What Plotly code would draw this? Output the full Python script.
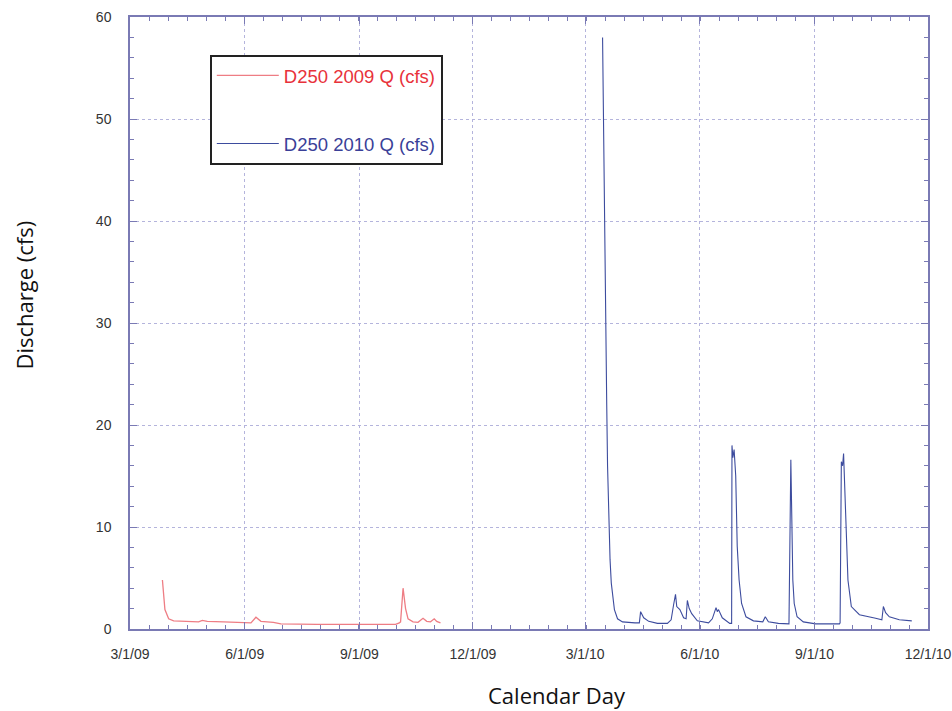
import plotly.graph_objects as go

# ---------------- data ----------------
dates_2009 = ["2009-03-27", "2009-03-29", "2009-04-01", "2009-04-05", "2009-04-15",
              "2009-04-25", "2009-04-28", "2009-05-02", "2009-05-15", "2009-05-30",
              "2009-06-06", "2009-06-10", "2009-06-14", "2009-06-24", "2009-06-30",
              "2009-07-29", "2009-09-30", "2009-10-03", "2009-10-04", "2009-10-06",
              "2009-10-08", "2009-10-10", "2009-10-14", "2009-10-18", "2009-10-22",
              "2009-10-25", "2009-10-28", "2009-10-31", "2009-11-02", "2009-11-05"]
q_2009 = [4.8, 1.9, 1.0, 0.8, 0.75,
          0.7, 0.85, 0.75, 0.7, 0.65,
          0.6, 1.15, 0.75, 0.65, 0.5,
          0.45, 0.45, 0.6, 0.7, 4.0,
          2.0, 1.0, 0.7, 0.65, 1.05,
          0.75, 0.7, 1.0, 0.75, 0.6]

dates_2010 = ["2010-03-15 00:00", "2010-03-15 12:00", "2010-03-16 00:00", "2010-03-16 12:00",
              "2010-03-17 12:00", "2010-03-18 08:00", "2010-03-19 00:00", "2010-03-20 00:00",
              "2010-03-21 00:00", "2010-03-22 00:00", "2010-03-23 00:00", "2010-03-24 12:00",
              "2010-03-27 00:00", "2010-03-31 00:00", "2010-04-10 00:00", "2010-04-13 12:00",
              "2010-04-14 12:00", "2010-04-17 00:00", "2010-04-21 00:00", "2010-04-28 00:00",
              "2010-05-06 00:00", "2010-05-09 00:00", "2010-05-11 00:00", "2010-05-12 12:00",
              "2010-05-13 12:00", "2010-05-16 00:00", "2010-05-19 00:00", "2010-05-21 00:00",
              "2010-05-22 00:00", "2010-05-23 12:00", "2010-05-25 12:00", "2010-05-30 00:00",
              "2010-06-08 00:00", "2010-06-11 00:00", "2010-06-14 00:00", "2010-06-15 00:00",
              "2010-06-16 00:00", "2010-06-19 00:00", "2010-06-25 00:00", "2010-06-26 12:00",
              "2010-06-26 19:00", "2010-06-27 12:00", "2010-06-28 12:00", "2010-06-29 00:00",
              "2010-06-29 19:00", "2010-07-01 00:00", "2010-07-02 12:00", "2010-07-04 12:00",
              "2010-07-08 00:00", "2010-07-14 00:00", "2010-07-21 12:00", "2010-07-23 12:00",
              "2010-07-26 00:00", "2010-08-03 00:00", "2010-08-11 12:00", "2010-08-13 00:00",
              "2010-08-13 19:00", "2010-08-14 14:00", "2010-08-15 17:00", "2010-08-18 00:00",
              "2010-08-23 00:00", "2010-09-02 00:00", "2010-09-21 00:00", "2010-09-21 12:00",
              "2010-09-22 12:00", "2010-09-23 12:00", "2010-09-24 07:00", "2010-09-25 00:00",
              "2010-09-26 12:00", "2010-09-27 19:00", "2010-09-30 12:00", "2010-10-07 00:00",
              "2010-10-20 00:00", "2010-10-25 00:00", "2010-10-26 05:00", "2010-10-28 00:00",
              "2010-10-31 00:00", "2010-11-08 00:00", "2010-11-18 00:00"]
q_2010 = [58, 52, 46, 38,
          31, 22, 16, 10,
          6.8, 4.5, 3.2, 1.9,
          1.0, 0.7, 0.6, 0.6,
          1.7, 1.1, 0.75, 0.55,
          0.55, 0.9, 2.4, 3.4,
          2.2, 1.9, 1.1, 1.0,
          2.8, 2.0, 1.5, 0.8,
          0.6, 1.0, 2.1, 1.7,
          1.9, 1.1, 0.55, 0.55,
          18.0, 16.8, 17.6, 16.5,
          15.0, 8.1, 4.8, 2.5,
          1.2, 0.8, 0.7, 1.2,
          0.7, 0.55, 0.5, 16.6,
          9.7, 4.8, 2.5, 1.2,
          0.7, 0.5, 0.5, 0.6,
          16.4, 16.0, 17.2, 14.6,
          9.7, 4.8, 2.2, 1.4,
          1.05, 0.9, 2.2, 1.6,
          1.2, 0.9, 0.8]

x_tick_vals = ["2009-03-01", "2009-06-01", "2009-09-01", "2009-12-01",
               "2010-03-01", "2010-06-01", "2010-09-01", "2010-12-01"]
x_tick_text = ["3/1/09", "6/1/09", "9/1/09", "12/1/09",
               "3/1/10", "6/1/10", "9/1/10", "12/1/10"]
y_tick_vals = [0, 10, 20, 30, 40, 50, 60]

name_2009 = "D250 2009 Q (cfs)"
name_2010 = "D250 2010 Q (cfs)"
x_title = "Calendar Day"
y_title = "Discharge (cfs)"

# ---------------- figure ----------------
RED_LINE = "#ee7d84"
RED_TEXT = "#e8323a"
BLUE_LINE = "#3d4c9e"
BLUE_TEXT = "#3a3f98"
AXIS_COL = "#7a7ab4"
GRID_COL = "#b4b4dc"
TITLE_FONT = dict(family="Open Sans, sans-serif", size=22, color="#111111")

fig = go.Figure()
fig.add_trace(go.Scatter(
    x=dates_2009, y=q_2009, mode="lines",
    line=dict(color=RED_LINE, width=1.3),
    name=f"<span style='color:{RED_TEXT}'>{name_2009}</span>",
    legendgroup="a",
))
fig.add_trace(go.Scatter(
    x=dates_2010, y=q_2010, mode="lines",
    line=dict(color=BLUE_LINE, width=1.1),
    name=f"<span style='color:{BLUE_TEXT}'>{name_2010}</span>",
    legendgroup="b",
))

minor_dtick_ms = 640 * 86400000 / 42

fig.update_layout(
    width=952, height=711,
    margin=dict(l=130, r=24, t=17, b=82),
    paper_bgcolor="white", plot_bgcolor="white",
    font=dict(family="Liberation Sans, Arial, sans-serif", size=14, color="#333333"),
    showlegend=True,
    legend=dict(
        x=0.1, y=0.938, xanchor="left", yanchor="top",
        bgcolor="white", bordercolor="#222222", borderwidth=2,
        font=dict(family="Liberation Sans, Arial, sans-serif", size=18.5),
        tracegroupgap=41, itemwidth=62,
    ),
    xaxis=dict(
        type="date", automargin=False,
        range=["2009-03-01", "2010-12-01"],
        tickmode="array", tickvals=x_tick_vals, ticktext=x_tick_text,
        ticks="inside", ticklen=7, tickcolor=AXIS_COL, tickwidth=1,
        showline=True, linecolor=AXIS_COL, linewidth=1.5, mirror="allticks",
        showgrid=True, gridcolor=GRID_COL, griddash="dot", gridwidth=1,
        zeroline=False,
        ticklabelstandoff=11,
        minor=dict(ticks="inside", ticklen=4, tickcolor=AXIS_COL,
                   tick0="2009-03-01", dtick=minor_dtick_ms, showgrid=False),
    ),
    yaxis=dict(
        range=[0, 60], automargin=False,
        tickmode="array", tickvals=y_tick_vals,
        ticks="inside", ticklen=7, tickcolor=AXIS_COL, tickwidth=1,
        showline=True, linecolor=AXIS_COL, linewidth=1.5, mirror="allticks",
        showgrid=True, gridcolor=GRID_COL, griddash="dot", gridwidth=1,
        zeroline=False,
        ticklabelstandoff=14,
        minor=dict(ticks="inside", ticklen=4, tickcolor=AXIS_COL,
                   tick0=0, dtick=2, showgrid=False),
    ),
    annotations=[
        dict(text=x_title, xref="paper", yref="paper", x=0.5357, y=-0.1078,
             xanchor="center", yanchor="middle", showarrow=False, font=TITLE_FONT),
        dict(text=y_title, xref="paper", yref="paper", x=-0.1328, y=0.545,
             xanchor="center", yanchor="middle", showarrow=False, textangle=-90,
             font=TITLE_FONT),
    ],
)

fig.write_html("out.html")
